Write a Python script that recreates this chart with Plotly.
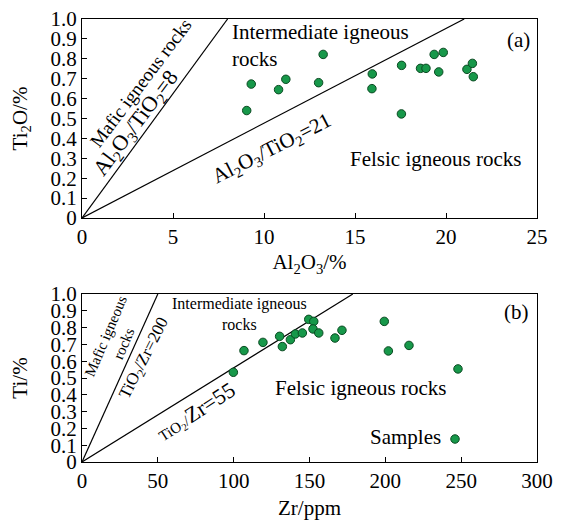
import plotly.graph_objects as go

# ---- data ----
al2o3 = [9.05, 9.3, 10.8, 11.2, 13.0, 13.25, 15.95, 15.93, 17.56, 17.55,
         18.6, 18.9, 19.35, 19.85, 19.6, 21.15, 21.45, 21.5]
ti2o = [0.54, 0.673, 0.645, 0.697, 0.68, 0.822, 0.724, 0.65, 0.767, 0.523,
        0.752, 0.752, 0.822, 0.832, 0.734, 0.747, 0.777, 0.71]
zr = [99.8, 106.8, 119.3, 130.3, 132.1, 137.4, 140.7, 145.3, 149.5, 152.8,
      152.3, 156.1, 166.8, 171.4, 199.3, 202.0, 215.6, 247.9]
ti = [0.534, 0.663, 0.712, 0.748, 0.687, 0.728, 0.762, 0.768, 0.849, 0.837,
      0.792, 0.768, 0.738, 0.784, 0.837, 0.661, 0.694, 0.554]
al_ratios = [8, 21]          # Al2O3/TiO2
zr_ratios = [200, 56]        # TiO2/Zr  (Ti% = Zr_ppm * ratio / 1e4)
xticks_a = [0, 5, 10, 15, 20, 25]
xticks_b = [0, 50, 100, 150, 200, 250, 300]
yticks = [0, 0.1, 0.2, 0.3, 0.4, 0.5, 0.6, 0.7, 0.8, 0.9, 1.0]
ytick_text = ["0", "0.1", "0.2", "0.3", "0.4", "0.5", "0.6", "0.7", "0.8", "0.9", "1.0"]

FONT = "Liberation Serif"
fill = "#17984a"
edge = "#0b4a22"

# page body has an 8px margin; figure sized to fit the window
OFF = 8
W, H = 564 - OFF, 520 - OFF

def fx(p):
    return (p - OFF) / W

def fy(p):
    return 1 - (p - OFF) / H

fig = go.Figure()

for r in al_ratios:
    fig.add_trace(go.Scatter(x=[0, r * 1.0], y=[0, 1.0], mode="lines",
                             line=dict(color="black", width=1.2),
                             xaxis="x", yaxis="y", showlegend=False, hoverinfo="skip"))
for r in zr_ratios:
    fig.add_trace(go.Scatter(x=[0, 1.0 * 1e4 / r], y=[0, 1.0], mode="lines",
                             line=dict(color="black", width=1.2),
                             xaxis="x2", yaxis="y2", showlegend=False, hoverinfo="skip"))

mk = dict(size=8.5, color=fill, line=dict(color=edge, width=1))
fig.add_trace(go.Scatter(x=al2o3, y=ti2o, mode="markers", marker=mk,
                         xaxis="x", yaxis="y", showlegend=False))
fig.add_trace(go.Scatter(x=zr, y=ti, mode="markers", marker=mk,
                         xaxis="x2", yaxis="y2", name=" ", showlegend=True))

dom_x = [fx(82), fx(537)]
axis_common = dict(showline=True, linecolor="black", linewidth=1.2, mirror=True,
                   ticks="inside", ticklen=5, tickcolor="black", showgrid=False,
                   zeroline=False, automargin=False, ticklabeloverflow="allow",
                   tickfont=dict(family=FONT, size=21, color="black"))

fig.update_layout(
    width=W, height=H,
    margin=dict(l=0, r=0, t=0, b=0),
    paper_bgcolor="white", plot_bgcolor="white",
    font=dict(family=FONT, size=21, color="black"),
    xaxis=dict(domain=dom_x, range=[0, 25], tickvals=xticks_a, anchor="y",
               title=dict(text="Al<sub>2</sub>O<sub>3</sub>/%", font=dict(family=FONT, size=21), standoff=6),
               **axis_common),
    yaxis=dict(domain=[fy(218), fy(19)], range=[0, 1.0], tickvals=yticks,
               ticktext=ytick_text, anchor="x",
               title=dict(text="Ti<sub>2</sub>O/%", font=dict(family=FONT, size=21), standoff=18),
               **axis_common),
    xaxis2=dict(domain=dom_x, range=[0, 300], tickvals=xticks_b, anchor="y2",
                title=dict(text="Zr/ppm", font=dict(family=FONT, size=21), standoff=14),
                **axis_common),
    yaxis2=dict(domain=[fy(462), fy(294)], range=[0, 1.0], tickvals=yticks,
                ticktext=ytick_text, anchor="x2",
                title=dict(text="Ti/%", font=dict(family=FONT, size=21), standoff=18),
                **axis_common),
    legend=dict(x=fx(455 - 20), y=fy(439), xanchor="left", yanchor="middle",
                orientation="h", bgcolor="rgba(0,0,0,0)", borderwidth=0,
                font=dict(family=FONT, size=4), itemwidth=30, tracegroupgap=0),
)

def ann(text, x, y, xref, yref, size=21, angle=0, xanchor="center", align="center"):
    fig.add_annotation(text=text, x=x, y=y, xref=xref, yref=yref, showarrow=False,
                       textangle=angle, xanchor=xanchor, yanchor="middle", align=align,
                       font=dict(family=FONT, size=size, color="black"))

# panel a labels
ann("Mafic igneous rocks", 3.19, 0.678, "x", "y", size=19, angle=-53)
ann("Al<sub>2</sub>O<sub>3</sub>/TiO<sub>2</sub>=8", 2.97, 0.472, "x", "y", size=22, angle=-53)
ann("Al<sub>2</sub>O<sub>3</sub>/TiO<sub>2</sub>=21", 10.44, 0.347, "x", "y", size=21, angle=-27)
ann("Intermediate igneous<br>rocks", 8.13, 0.867, "x", "y", size=21, xanchor="left", align="left")
ann("Felsic igneous rocks", 19.4, 0.296, "x", "y", size=21)
ann("(a)", 23.96, 0.894, "x", "y", size=21)

# panel b labels
ann("Mafic igneous<br>rocks", 21.8, 0.726, "x2", "y2", size=15, angle=-67)
ann("TiO<sub>2</sub>/Zr=200", 41.5, 0.62, "x2", "y2", size=17, angle=-63)
ann("Intermediate igneous<br>rocks", 104, 0.881, "x2", "y2", size=16)
ann("<span style='font-size:15px'>TiO<sub>2</sub>/</span>Zr=55", 75.2, 0.298, "x2", "y2", size=22, angle=-33)
ann("Felsic igneous rocks", 183.3, 0.44, "x2", "y2", size=21)
ann("(b)", 286.8, 0.893, "x2", "y2", size=21)
ann("Samples", fx(443), fy(437), "paper", "paper", size=21, xanchor="right")

fig.write_html("out.html")
